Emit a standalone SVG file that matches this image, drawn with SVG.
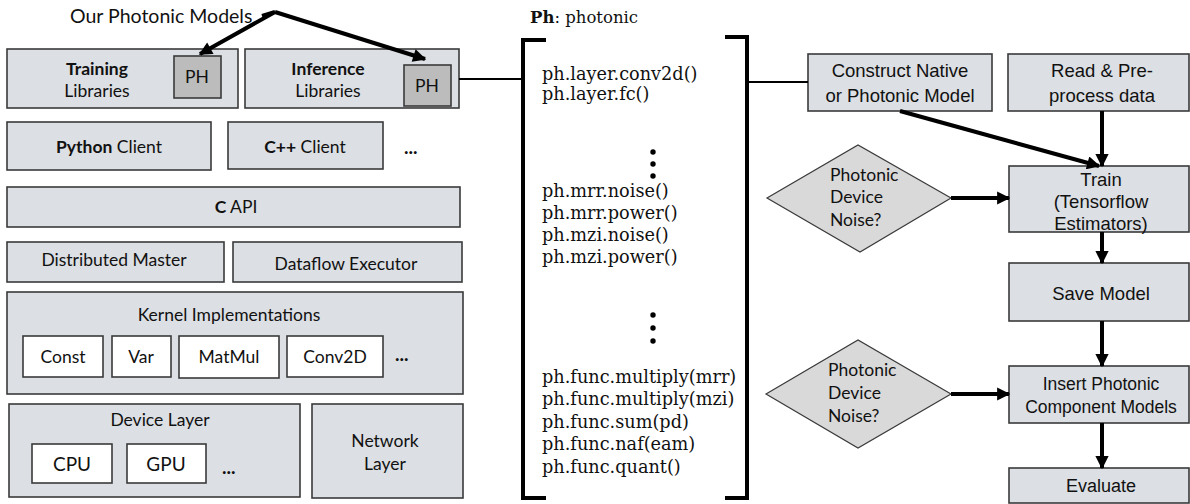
<svg xmlns="http://www.w3.org/2000/svg" width="1190" height="504" viewBox="0 0 1190 504">
<defs>
<style>
.box{fill:#dcdfe3;stroke:#3a3a3a;stroke-width:1.6}
.wbox{fill:#ffffff;stroke:#3a3a3a;stroke-width:1.6}
.ph{fill:#bcbcbc;stroke:#3a3a3a;stroke-width:1.6}
.dia{fill:#d9d9d9;stroke:#3a3a3a;stroke-width:1.2}
.cal{font-family:Lato,"Open Sans",sans-serif;fill:#111;font-size:17.5px}
.b{font-weight:bold}
.ser{font-family:"DejaVu Serif","Liberation Serif",serif;fill:#111;font-size:17.7px}
.ari{font-family:"Liberation Sans",Arial,sans-serif;fill:#111;font-size:18.5px}
.mid{text-anchor:middle}
.con{stroke:#000;fill:none}
</style>
<marker id="ah" viewBox="0 0 10 10" refX="9" refY="5" markerWidth="3.5" markerHeight="3.3" orient="auto" markerUnits="strokeWidth">
<path d="M0,0 L10,5 L0,10 z" fill="#000"/>
</marker>
</defs>
<rect width="1190" height="504" fill="#fff"/>

<g id="title-models"><text class="cal" x="70" y="23" style="font-size:19.5px">Our Photonic Models</text></g>

<g id="training"><rect class="box" x="7" y="49" width="231" height="59"/><text class="cal mid b" x="97" y="75">Training</text><text class="cal mid" x="97" y="97">Libraries</text></g>
<g id="ph1"><rect class="ph" x="174" y="56" width="47" height="42"/><text class="cal mid" x="197" y="83">PH</text></g>
<g id="inference"><rect class="box" x="245" y="49" width="214" height="59"/><text class="cal mid b" x="328" y="75">Inference</text><text class="cal mid" x="328" y="97">Libraries</text></g>
<g id="ph2"><rect class="ph" x="404" y="65" width="47" height="41"/><text class="cal mid" x="427" y="92">PH</text></g>

<g id="python"><rect class="box" x="7" y="122" width="204" height="48"/><text class="cal mid" x="109" y="153"><tspan class="b">Python</tspan> Client</text></g>
<g id="cpp"><rect class="box" x="228" y="122" width="155" height="47"/><text class="cal mid" x="305" y="153"><tspan class="b">C++</tspan> Client</text></g>
<g id="dots1"><text class="cal b" x="404" y="154" style="font-size:19px">...</text></g>

<g id="capi"><rect class="box" x="7" y="187" width="453" height="40"/><text class="cal mid" x="236" y="213"><tspan class="b">C</tspan> API</text></g>
<g id="master"><rect class="box" x="7" y="242" width="217" height="40"/><text class="cal mid" x="114" y="266">Distributed Master</text></g>
<g id="executor"><rect class="box" x="233" y="242" width="229" height="40"/><text class="cal mid" x="346" y="270">Dataflow Executor</text></g>

<g id="kernel"><rect class="box" x="7" y="292" width="456" height="102"/><text class="cal mid" x="229" y="321">Kernel Implementations</text>
<rect class="wbox" x="23" y="336" width="80" height="41"/><text class="cal mid" x="63" y="363">Const</text>
<rect class="wbox" x="112" y="336" width="59" height="41"/><text class="cal mid" x="141" y="363">Var</text>
<rect class="wbox" x="179" y="336" width="100" height="42"/><text class="cal mid" x="229" y="363">MatMul</text>
<rect class="wbox" x="287" y="336" width="96" height="41"/><text class="cal mid" x="335" y="363">Conv2D</text>
<text class="cal b" x="395" y="361" style="font-size:19px">...</text></g>

<g id="device"><rect class="box" x="9" y="404" width="291" height="93"/><text class="cal mid" x="160" y="426">Device Layer</text>
<rect class="wbox" x="32" y="444" width="80" height="39"/><text class="cal mid" x="72" y="471" style="font-size:19px">CPU</text>
<rect class="wbox" x="127" y="444" width="79" height="39"/><text class="cal mid" x="166" y="471" style="font-size:19px">GPU</text>
<text class="cal b" x="222" y="474" style="font-size:19px">...</text></g>
<g id="network"><rect class="box" x="312" y="404" width="151" height="94"/><text class="cal mid" x="385" y="447">Network</text><text class="cal mid" x="385" y="470">Layer</text></g>

<g id="ph-lib">
<text class="ser" x="530" y="23" style="font-size:16.5px"><tspan font-weight="bold">Ph</tspan>: photonic</text>
<path d="M546,40 H523 V498 H546 M725,37 H747 V498 H725" stroke="#000" stroke-width="4" fill="none"/>
<text class="ser" x="542" y="80">ph.layer.conv2d()</text>
<text class="ser" x="542" y="100">ph.layer.fc()</text>
<circle cx="653" cy="152" r="2.7"/><circle cx="653" cy="164" r="2.7"/><circle cx="653" cy="176" r="2.7"/>
<text class="ser" x="542" y="197">ph.mrr.noise()</text>
<text class="ser" x="542" y="219">ph.mrr.power()</text>
<text class="ser" x="542" y="241">ph.mzi.noise()</text>
<text class="ser" x="542" y="263">ph.mzi.power()</text>
<circle cx="653" cy="315" r="2.7"/><circle cx="653" cy="328" r="2.7"/><circle cx="653" cy="341" r="2.7"/>
<text class="ser" x="542" y="383">ph.func.multiply(mrr)</text>
<text class="ser" x="542" y="405">ph.func.multiply(mzi)</text>
<text class="ser" x="542" y="428">ph.func.sum(pd)</text>
<text class="ser" x="542" y="450">ph.func.naf(eam)</text>
<text class="ser" x="542" y="473">ph.func.quant()</text>
</g>

<g id="construct"><rect class="box" x="808" y="54" width="184" height="57"/><text class="ari mid" x="900" y="77">Construct Native</text><text class="ari mid" x="900" y="102">or Photonic Model</text></g>
<g id="read"><rect class="box" x="1008" y="54" width="181" height="57"/><text class="ari mid" x="1102" y="77">Read &amp; Pre-</text><text class="ari mid" x="1102" y="102">process data</text></g>
<g id="noise1"><polygon class="dia" points="767,198 858,145 951,198 860,252"/><text class="cal" x="830" y="181">Photonic</text><text class="cal" x="830" y="203">Device</text><text class="cal" x="830" y="226">Noise?</text></g>
<g id="train"><rect class="box" x="1009" y="166" width="180" height="66"/><text class="ari mid" x="1101" y="186">Train</text><text class="ari mid" x="1101" y="208">(Tensorflow</text><text class="ari mid" x="1101" y="230">Estimators)</text></g>
<g id="save"><rect class="box" x="1009" y="263" width="180" height="58"/><text class="ari mid" x="1101" y="300">Save Model</text></g>
<g id="noise2"><polygon class="dia" points="766,394 858,340 951,394 858,448"/><text class="cal" x="828" y="376">Photonic</text><text class="cal" x="828" y="399">Device</text><text class="cal" x="828" y="422">Noise?</text></g>
<g id="insert"><rect class="box" x="1009" y="366" width="180" height="57"/><text class="ari mid" x="1101" y="390" style="font-size:17.5px">Insert Photonic</text><text class="ari mid" x="1101" y="413" style="font-size:17.5px">Component Models</text></g>
<g id="evaluate"><rect class="box" x="1009" y="468" width="180" height="35"/><text class="ari mid" x="1101" y="492" style="font-size:18px">Evaluate</text></g>

<g id="connectors">
<path class="con" d="M262,16 L275,12 L200,54" stroke-width="4" marker-end="url(#ah)"/>
<path class="con" d="M275,12 L425,59" stroke-width="4" marker-end="url(#ah)"/>
<path class="con" d="M459,79 H523" stroke-width="2"/>
<path class="con" d="M747,82 H808" stroke-width="2"/>
<path class="con" d="M900,111 L1099,166" stroke-width="4" marker-end="url(#ah)"/>
<path class="con" d="M1102,111 V166" stroke-width="4" marker-end="url(#ah)"/>
<path class="con" d="M951,198 H1009" stroke-width="4" marker-end="url(#ah)"/>
<path class="con" d="M1102,232 V263" stroke-width="4" marker-end="url(#ah)"/>
<path class="con" d="M1102,321 V366" stroke-width="4" marker-end="url(#ah)"/>
<path class="con" d="M951,394 H1009" stroke-width="4" marker-end="url(#ah)"/>
<path class="con" d="M1102,423 V468" stroke-width="4" marker-end="url(#ah)"/>
</g>
</svg>
